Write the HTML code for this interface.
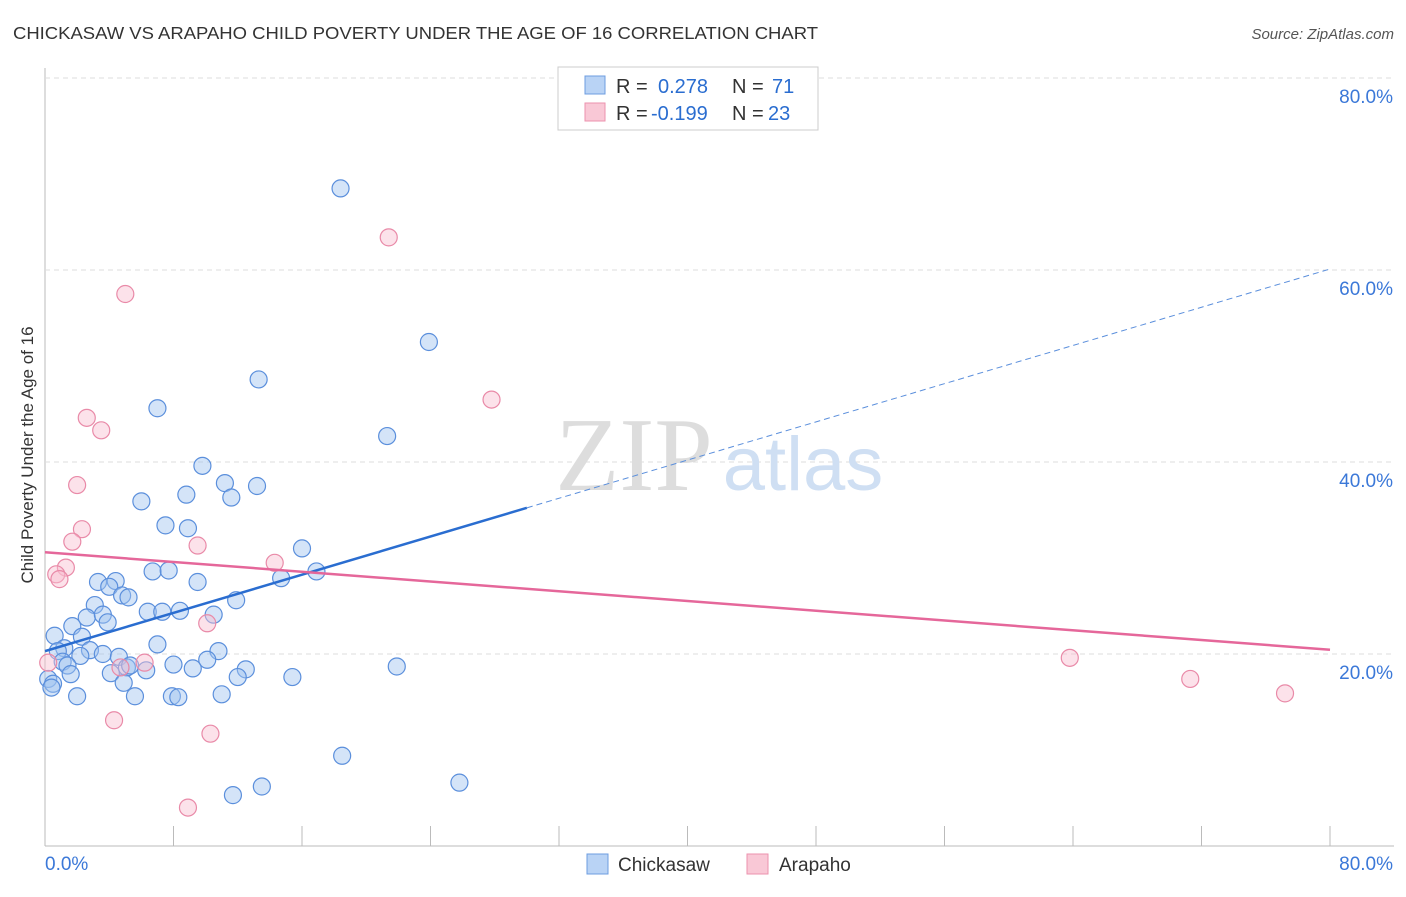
<!DOCTYPE html>
<html><head><meta charset="utf-8"><style>
body{margin:0;background:#fff;font-family:"Liberation Sans",sans-serif}
</style></head><body>
<svg id="chart" width="1406" height="892" xmlns="http://www.w3.org/2000/svg">
<text x="13" y="39" font-size="17.5" fill="#333" textLength="805" lengthAdjust="spacingAndGlyphs">CHICKASAW VS ARAPAHO CHILD POVERTY UNDER THE AGE OF 16 CORRELATION CHART</text>
<text x="1394" y="39" font-size="15" fill="#555" font-style="italic" text-anchor="end">Source: ZipAtlas.com</text>
<g id="grid"></g>
<text x="634" y="490" font-size="105" fill="#ddd" font-family="Liberation Serif" text-anchor="middle">ZIP</text>
<text x="803" y="490" font-size="76" fill="#cfdff3" text-anchor="middle">atlas</text>
<text transform="translate(33,455) rotate(-90)" font-size="17" fill="#333" text-anchor="middle">Child Poverty Under the Age of 16</text>
<g id="pts"></g>
<g id="lines"></g>
<g>
<rect x="558" y="67" width="260" height="63" fill="#fff" stroke="#ccc"/>
<rect x="585" y="76" width="20" height="18" fill="#b9d3f5" stroke="#6d9de0"/>
<rect x="585" y="103" width="20" height="18" fill="#f9c8d6" stroke="#ec92ae"/>
<text y="93" font-size="20" fill="#333"><tspan x="616">R =</tspan><tspan x="658" fill="#2a6dd0">0.278</tspan><tspan x="732">N =</tspan><tspan x="772" fill="#2a6dd0">71</tspan></text>
<text y="120" font-size="20" fill="#333"><tspan x="616">R =</tspan><tspan x="651" fill="#2a6dd0">-0.199</tspan><tspan x="732">N =</tspan><tspan x="768" fill="#2a6dd0">23</tspan></text>
</g>
<g>
<rect x="587" y="854" width="21" height="20" fill="#b9d3f5" stroke="#6d9de0"/>
<text x="618" y="871" font-size="19" fill="#333">Chickasaw</text>
<rect x="747" y="854" width="21" height="20" fill="#f9c8d6" stroke="#ec92ae"/>
<text x="779" y="871" font-size="19" fill="#333">Arapaho</text>
</g>
</svg>
<script>
const yTicks=[20,40,60,80];
const yTickLabels=["20.0%","40.0%","60.0%","80.0%"];
const blueX=[18.4,23.9,13.3,7.0,21.3,9.8,11.2,13.2,8.8,11.6,6.0,7.5,8.9,16.0,6.7,7.7,16.9,3.3,4.4,9.5,14.7,4.0,4.8,5.2,11.9,3.1,6.4,7.3,8.4,2.6,3.6,10.5,3.9,1.7,2.3,0.6,7.0,10.8,1.2,0.8,2.8,2.2,3.6,4.6,10.1,8.0,9.2,12.5,21.9,1.1,1.4,1.6,4.1,6.3,5.1,12.0,15.4,0.2,0.5,4.9,0.4,2.0,5.6,7.9,8.3,11.0,18.5,25.8,13.5,11.7,5.3];
const blueY=[68.5,52.5,48.6,45.6,42.7,39.6,37.8,37.5,36.6,36.3,35.9,33.4,33.1,31.0,28.6,28.7,28.6,27.5,27.6,27.5,27.9,27.0,26.1,25.9,25.6,25.1,24.4,24.4,24.5,23.8,24.1,24.1,23.3,22.9,21.8,21.9,21.0,20.3,20.6,20.3,20.4,19.8,20.0,19.7,19.4,18.9,18.5,18.4,18.7,19.2,18.8,17.9,18.0,18.3,18.6,17.6,17.6,17.4,16.9,17.0,16.5,15.6,15.6,15.6,15.5,15.8,9.4,6.6,6.2,5.3,18.8];
const pinkX=[21.4,5.0,27.8,2.6,3.5,2.0,2.3,1.7,9.5,1.3,0.7,0.9,14.3,10.1,6.2,4.7,63.8,71.3,77.2,4.3,10.3,8.9,0.2];
const pinkY=[63.4,57.5,46.5,44.6,43.3,37.6,33.0,31.7,31.3,29.0,28.3,27.8,29.5,23.2,19.1,18.6,19.6,17.4,15.9,13.1,11.7,4.0,19.1];
const blueFit=[20.3,0.4975];const pinkFit=[30.6,-0.127];
const X=v=>45+v/80*1285, Y=v=>846-v*9.6;
const NS="http://www.w3.org/2000/svg";
function mk(t,a,p){const e=document.createElementNS(NS,t);for(const k in a)e.setAttribute(k,a[k]);p.appendChild(e);return e;}
const g=document.getElementById('grid');
let ax=mk('line',{x1:45,y1:68,x2:45,y2:846,stroke:'#bbb'},g);


let bx=mk('line',{x1:45,y1:846,x2:1394,y2:846,stroke:'#bbb'},g);


yTicks.forEach((t,i)=>{
 const l=mk('line',{x1:45,y1:Y(t),x2:1394,y2:Y(t),stroke:'#ddd','stroke-dasharray':'5,4'},g);
 
 
 const tx=mk('text',{x:1393,y:Y(t)+25,'font-size':19,fill:'#3b78d8','text-anchor':'end'},g);
 tx.textContent=yTickLabels[i];
 
 
});
for(let i=1;i<=10;i++){const x=X(i*8);const l=mk('line',{x1:x,y1:826,x2:x,y2:846,stroke:'#bbb'},g);
 
 }
[["0.0%",45,'start'],["80.0%",1393,'end']].forEach(a=>{const t=mk('text',{x:a[1],y:870,'font-size':19,fill:'#3b78d8','text-anchor':a[2]},g);t.textContent=a[0];
 
 });
const p=document.getElementById('pts');
blueX.forEach((v,i)=>{const c=mk('circle',{cx:X(v),cy:Y(blueY[i]),r:8.5,fill:'rgba(160,195,240,0.45)',stroke:'#5b8fdc','stroke-width':1.2},p);
 
 });
pinkX.forEach((v,i)=>{const c=mk('circle',{cx:X(v),cy:Y(pinkY[i]),r:8.5,fill:'rgba(248,190,208,0.45)',stroke:'#e98aa8','stroke-width':1.2},p);
 
 });
const L=document.getElementById('lines');
const bf=v=>blueFit[0]+blueFit[1]*v, pf=v=>pinkFit[0]+pinkFit[1]*v;
let l1=mk('line',{x1:X(0),y1:Y(bf(0)),x2:X(30),y2:Y(bf(30)),stroke:'#2a6dd0','stroke-width':2.5},L);


let l2=mk('line',{x1:X(30),y1:Y(bf(30)),x2:X(80),y2:Y(bf(80)),stroke:'#5b8fdc','stroke-width':1,'stroke-dasharray':'6,4'},L);


let l3=mk('line',{x1:X(0),y1:Y(pf(0)),x2:X(80),y2:Y(pf(80)),stroke:'#e5679a','stroke-width':2.5},L);


</script>
</body></html>
